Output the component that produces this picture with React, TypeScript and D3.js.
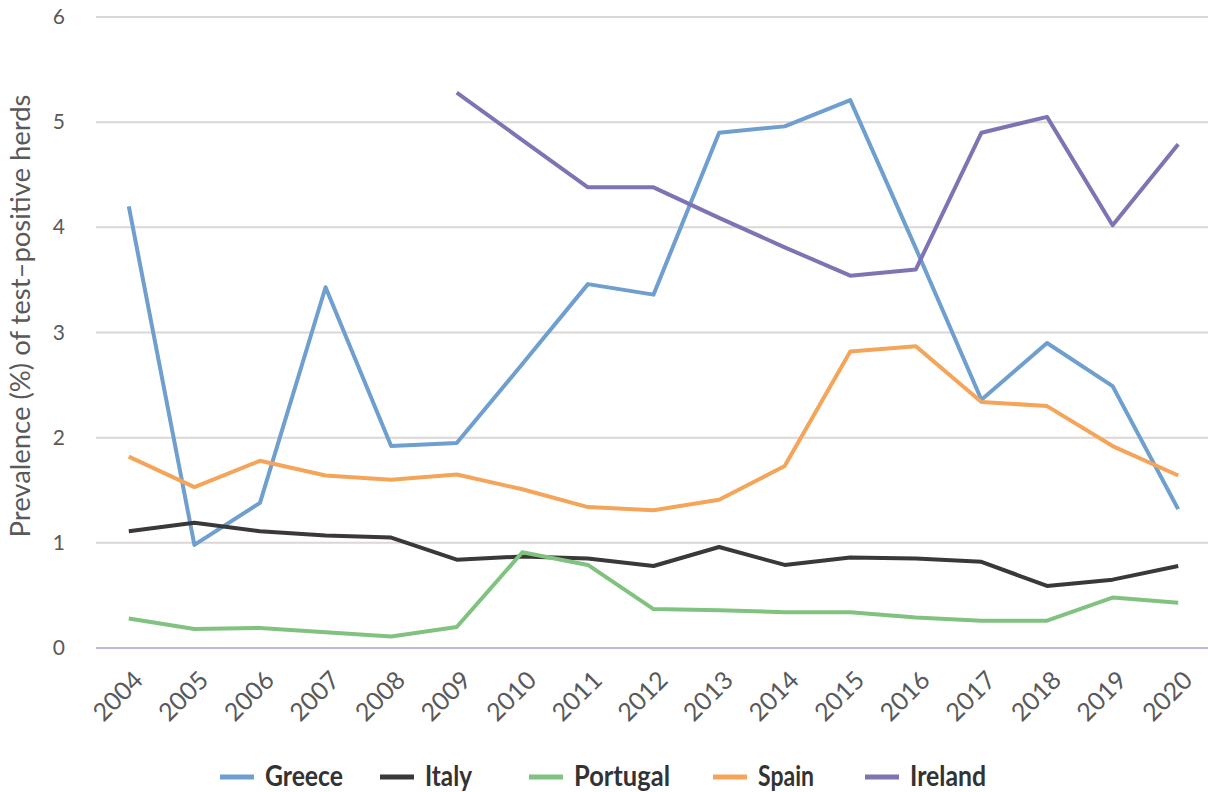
import { line, scaleLinear, scalePoint } from 'd3'

const years = ['2004', '2005', '2006', '2007', '2008', '2009', '2010', '2011', '2012', '2013', '2014', '2015', '2016', '2017', '2018', '2019', '2020']
const greece = [4.2, 0.98, 1.38, 3.43, 1.92, 1.95, 2.7, 3.46, 3.36, 4.9, 4.96, 5.21, 3.8, 2.36, 2.9, 2.49, 1.32]
const italy = [1.11, 1.19, 1.11, 1.07, 1.05, 0.84, 0.87, 0.85, 0.78, 0.96, 0.79, 0.86, 0.85, 0.82, 0.59, 0.65, 0.78]
const portugal = [0.28, 0.18, 0.19, 0.15, 0.11, 0.2, 0.91, 0.79, 0.37, 0.36, 0.34, 0.34, 0.29, 0.26, 0.26, 0.48, 0.43]
const spain = [1.82, 1.53, 1.78, 1.64, 1.6, 1.65, 1.51, 1.34, 1.31, 1.41, 1.73, 2.82, 2.87, 2.34, 2.3, 1.92, 1.64]
const ireland = [null, null, null, null, null, 5.28, 4.83, 4.38, 4.38, 4.09, 3.81, 3.54, 3.6, 4.9, 5.05, 4.02, 4.79]
const yTicks = [0, 1, 2, 3, 4, 5, 6]

const series = [
  { name: 'Greece', values: greece, color: '#6f9fce', legendX: 220, textW: 78 },
  { name: 'Italy', values: italy, color: '#3b3838', legendX: 380, textW: 47 },
  { name: 'Portugal', values: portugal, color: '#80c27f', legendX: 529, textW: 96 },
  { name: 'Spain', values: spain, color: '#f5a55a', legendX: 713, textW: 56 },
  { name: 'Ireland', values: ireland, color: '#7f74b3', legendX: 865, textW: 76 },
]

export default function App() {
  const width = 1208
  const height = 792
  const font = 'Lato, "Open Sans", sans-serif'
  const xScale = scalePoint<string>().domain(years).range([96, 1211]).padding(0.5)
  const yScale = scaleLinear().domain([0, 6]).range([648, 17])
  const path = line<number | null>()
    .defined((d) => d !== null)
    .x((_, i) => xScale(years[i]) ?? 0)
    .y((d) => yScale(d as number))

  return (
    <svg width={width} height={height} style={{ position: 'absolute', left: 0, top: 0 }} viewBox={`0 0 ${width} ${height}`}>
      <rect width={width} height={height} fill="#ffffff" />
      {yTicks.map((tick) => (
        <g key={tick}>
          {tick > 0 && <line x1="96" x2={width} y1={yScale(tick)} y2={yScale(tick)} stroke="#dcd6d4" strokeWidth="2" />}
          <text x="65" y={yScale(tick) + 7} textAnchor="end" fill="#595959" fontSize="21" fontFamily={font}>{tick}</text>
        </g>
      ))}
      <line x1="96" x2={width} y1={yScale(0)} y2={yScale(0)} stroke="#b9b7dc" strokeWidth="2" />
      {years.map((year) => (
        <text
          key={year}
          transform={`translate(${(xScale(year) ?? 0) + 3}, 669) rotate(-45)`}
          textAnchor="end"
          dy="0.72em"
          fill="#595959"
          fontSize="25"
          fontFamily={font}
        >
          {year}
        </text>
      ))}
      <text transform="translate(30, 316) rotate(-90)" textAnchor="middle" fill="#595959" fontSize="26" fontFamily={font} textLength="443" lengthAdjust="spacingAndGlyphs">
        Prevalence (%) of test–positive herds
      </text>
      {series.map((s) => (
        <path key={s.name} d={path(s.values) ?? ''} fill="none" stroke={s.color} strokeWidth="4" strokeLinejoin="round" />
      ))}
      {series.map((s) => (
        <g key={s.name}>
          <line x1={s.legendX} x2={s.legendX + 34} y1="777" y2="777" stroke={s.color} strokeWidth="5" />
          <text x={s.legendX + 45} y="786" fill="#333333" fontSize="28" fontWeight="700" fontFamily={font} textLength={s.textW} lengthAdjust="spacingAndGlyphs">{s.name}</text>
        </g>
      ))}
    </svg>
  )
}
